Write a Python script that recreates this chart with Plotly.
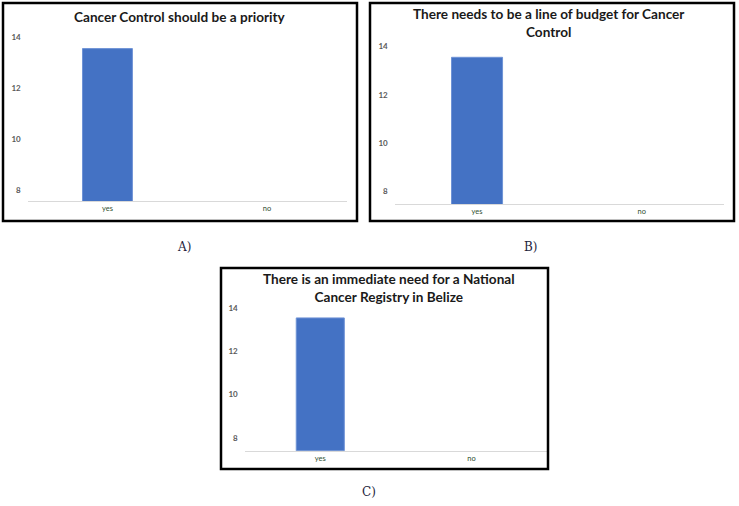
import plotly.graph_objects as go

W, H = 739, 506

categories = ["yes", "no"]
titles = [
    "Cancer Control should be a priority",
    "There needs to be a line of budget for Cancer<br>Control",
    "There is an immediate need for a National<br>Cancer Registry in Belize",
]
values_a = [13.57, 0]
values_b = [13.56, 0]
values_c = [13.54, 0]
panel_labels = ["A)", "B)", "C)"]
y_ticks = [8, 10, 12, 14]


def px_x(v):
    return v / W


def px_y(v):
    return 1 - v / H


# pixel boxes of the plot areas: (left, right, top, bottom), y ranges
panels = [
    dict(vals=values_a, box=(27.7, 346.7, 27.5, 201.0), yr=[7.57, 14.4],
         border=(3, 357, 3, 221), title_y=17, title_x=180,
         lab=(184, 247), bw=0.313),
    dict(vals=values_b, box=(394.7, 724.0, 37.0, 204.0), yr=[7.49, 14.4],
         border=(370, 734, 3, 221), title_y=23.5, title_x=549,
         lab=(531, 247), bw=0.31),
    dict(vals=values_c, box=(244.7, 547.0, 299.3, 450.7), yr=[7.41, 14.4],
         border=(221, 548, 268, 469), title_y=287.5, title_x=389,
         lab=(369, 492), bw=0.318),
]

fig = go.Figure()
shapes = []
annotations = []

for i, p in enumerate(panels):
    n = "" if i == 0 else str(i + 1)
    xa, ya = "x" + n, "y" + n
    l, r, t, b = p["box"]
    fig.add_trace(go.Bar(
        x=categories, y=p["vals"], xaxis=xa, yaxis=ya,
        marker=dict(color="#4472C4", line=dict(color="#6f93d6", width=1)),
        width=p["bw"], showlegend=False, hoverinfo="x+y",
    ))
    fig.layout["xaxis" + n] = dict(
        domain=[px_x(l), px_x(r)], anchor=ya,
        showline=True, linecolor="#d9d9d9", linewidth=1,
        showgrid=False, zeroline=False, ticks="",
        tickfont=dict(family="Lato", size=7.5, color="#2f4f2f"),
        fixedrange=True,
    )
    fig.layout["yaxis" + n] = dict(
        domain=[px_y(b), px_y(t)], anchor=xa, range=p["yr"],
        tickvals=y_ticks, showgrid=False, zeroline=False, showline=False,
        tickfont=dict(family="Lato", size=8, color="#595959", weight="bold"),
        ticklabelstandoff=6, fixedrange=True,
    )
    bl, br, bt, bb = p["border"]
    shapes.append(dict(type="rect", xref="paper", yref="paper",
                       x0=px_x(bl), x1=px_x(br), y0=px_y(bb), y1=px_y(bt),
                       line=dict(color="black", width=2.5)))
    annotations.append(dict(
        text="<b>" + titles[i] + "</b>", xref="paper", yref="paper",
        x=px_x(p["title_x"]), y=px_y(p["title_y"]), xanchor="center",
        yanchor="middle", showarrow=False, align="center",
        font=dict(family="Lato", size=13.6, color="#1a1a1a"),
    ))
    lx, ly = p["lab"]
    annotations.append(dict(
        text=panel_labels[i], xref="paper", yref="paper",
        x=px_x(lx), y=px_y(ly), xanchor="center", yanchor="middle",
        showarrow=False,
        font=dict(family="DejaVu Serif", size=12, color="#1e1e3c"),
    ))

fig.update_layout(
    width=W, height=H, margin=dict(l=0, r=0, t=0, b=0),
    paper_bgcolor="white", plot_bgcolor="white",
    shapes=shapes, annotations=annotations, bargap=0.5,
)

fig.write_html("out.html")
